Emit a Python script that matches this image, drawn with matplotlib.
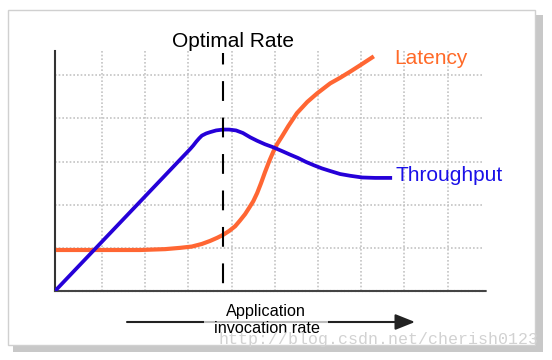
import matplotlib
matplotlib.use("Agg")
import matplotlib.pyplot as plt
from matplotlib.patches import Rectangle, FancyArrowPatch

# throughput curve (grid units)
rate_tp = [-0.09, 3.04, 3.11, 3.18, 3.25, 3.31, 3.41, 3.50, 3.64, 3.80, 3.94,
           4.10, 4.26, 4.43, 4.59, 4.77, 4.96, 5.17, 5.35, 5.54, 5.72, 5.91,
           6.09, 6.28, 6.51, 6.74, 7.02, 7.32, 7.67]
throughput = [0.0, 3.29, 3.37, 3.46, 3.54, 3.60, 3.65, 3.68, 3.72, 3.74, 3.74,
              3.72, 3.66, 3.56, 3.48, 3.40, 3.33, 3.24, 3.16, 3.08, 2.99, 2.91,
              2.84, 2.78, 2.71, 2.67, 2.63, 2.62, 2.62]

# latency curve (grid units)
rate_lat = [-0.02, 0.95, 1.88, 2.46, 2.81, 3.08, 3.31, 3.50, 3.66, 3.80, 3.94,
            4.08, 4.19, 4.31, 4.40, 4.50, 4.59, 4.68, 4.77, 4.87, 4.96, 5.05,
            5.17, 5.31, 5.51, 5.75, 5.98, 6.28, 6.51, 6.74, 6.99, 7.25]
latency = [0.95, 0.95, 0.95, 0.97, 1.00, 1.03, 1.09, 1.16, 1.23, 1.30, 1.39,
           1.50, 1.63, 1.78, 1.92, 2.08, 2.27, 2.50, 2.75, 3.01, 3.22, 3.40,
           3.59, 3.82, 4.12, 4.38, 4.58, 4.81, 4.94, 5.08, 5.24, 5.41]

optimal_rate = 3.79
grid_x = [1, 2, 3, 4, 5, 6, 7, 8, 9]
grid_y = [1, 2, 3, 4, 5]

W, H = 552, 360
fig = plt.figure(figsize=(W / 100, H / 100), dpi=100)
fig.patch.set_facecolor("white")

# framed box with drop shadow
fig.add_artist(Rectangle((13 / W, 1 - 352 / H), 530 / W, 337 / H,
                         transform=fig.transFigure, facecolor="#c8c8c8",
                         edgecolor="none", zorder=-2))
fig.add_artist(Rectangle((8 / W, 1 - 345 / H), 527 / W, 335 / H,
                         transform=fig.transFigure, facecolor="white",
                         edgecolor="#d0d0d0", lw=1, zorder=-1))

ax = fig.add_axes([55 / W, 1 - 291 / H, 432 / W, 240 / H])
ax.set_facecolor("none")
ax.set_xlim(-0.09, 9.91)
ax.set_ylim(0, 5.56)
ax.set_xticks([])
ax.set_yticks([])
ax.spines["top"].set_visible(False)
ax.spines["right"].set_visible(False)
ax.spines["left"].set_color("#333333")
ax.spines["left"].set_linewidth(1.5)
ax.spines["bottom"].set_color("#444444")
ax.spines["bottom"].set_linewidth(1.5)
ax.spines["bottom"].set_linestyle((0, (1, 0.7)))

# dotted grid
ax.vlines(grid_x, 0, 5.56, colors="#c4c4c4", linestyles=(0, (1, 1.2)), lw=1.2, zorder=0)
ax.hlines(grid_y, -0.09, 9.84, colors="#c4c4c4", linestyles=(0, (1, 1.2)), lw=1.2, zorder=0)

ax.plot(rate_lat, latency, color="#ff6633", lw=3, solid_joinstyle="round", zorder=3)
ax.plot(rate_tp, throughput, color="#2500d8", lw=2.7, solid_joinstyle="round", zorder=3)

# optimal rate marker
ax.plot([optimal_rate, optimal_rate], [5.52, -0.05], color="black", lw=1.5,
        linestyle=(4, (9.5, 8)), clip_on=False, zorder=4)

fig.text(233 / W, 1 - 47 / H, "Optimal Rate", ha="center", va="baseline",
         fontsize=15, family="Liberation Sans", color="black")
fig.text(394 / W, 1 - 64 / H, "Latency", ha="left", va="baseline",
         fontsize=15, family="Liberation Sans", color="#ff6a28")
fig.text(395 / W, 1 - 181 / H, "Throughput", ha="left", va="baseline",
         fontsize=15, family="Liberation Sans", color="#1a10e8")

# x axis caption with arrow, the caption box fades the arrow under it
fig.add_artist(FancyArrowPatch((127 / W, 1 - 322 / H), (415 / W, 1 - 322 / H),
                               transform=fig.transFigure,
                               arrowstyle="-|>,head_length=1.0,head_width=0.4",
                               mutation_scale=12, color="#222222", lw=1.5,
                               shrinkA=0, shrinkB=0, zorder=2))
fig.add_artist(Rectangle((204 / W, 1 - 327 / H), 124 / W, 10 / H,
                         transform=fig.transFigure, facecolor="white",
                         edgecolor="none", alpha=0.7, zorder=2.5))
fig.text(266 / W, 1 - 316 / H, "Application", ha="center", va="baseline",
         fontsize=11.7, family="Liberation Sans", color="black", zorder=3)
fig.text(267 / W, 1 - 333 / H, "invocation rate", ha="center", va="baseline",
         fontsize=11.7, family="Liberation Sans", color="black", zorder=3)

fig.text(219 / W, 1 - 344 / H, "http://blog.csdn.net/cherish0123", ha="left",
         va="baseline", fontsize=12, family="Liberation Mono", color="#d2d2d2",
         zorder=5)

fig.savefig("out.png", dpi=100)
